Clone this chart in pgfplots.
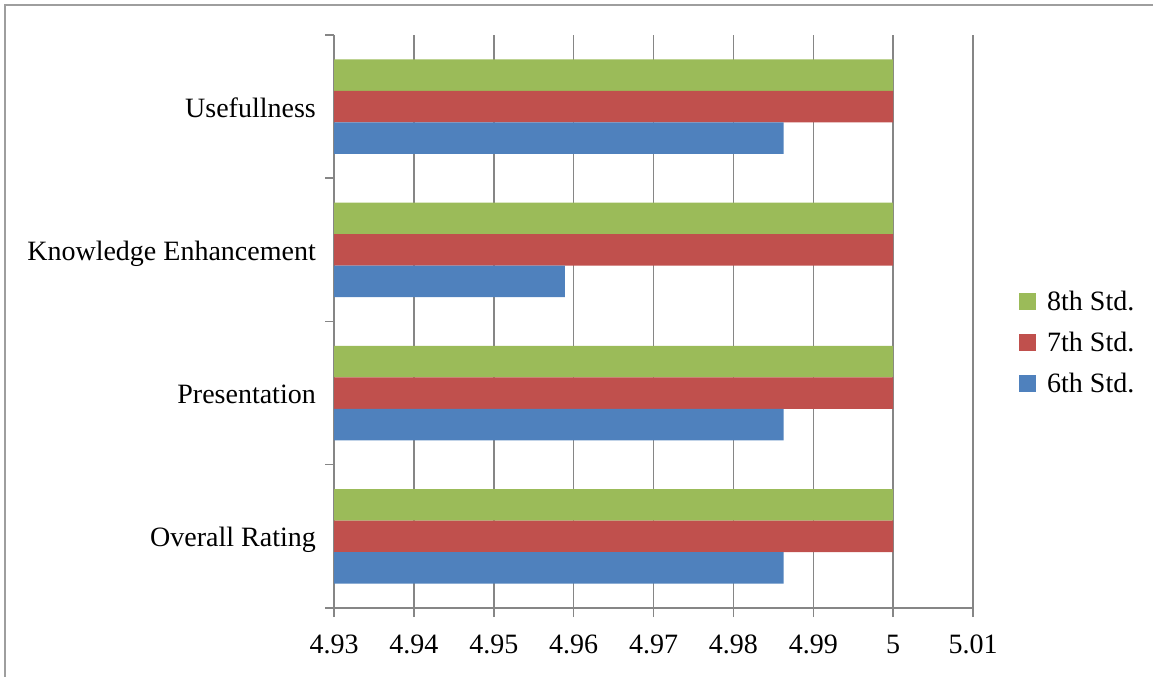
\documentclass[border=0pt]{standalone}
\usepackage{pgfplots}
\pgfplotsset{compat=1.18}
\usepackage{fontspec}
\setmainfont{Liberation Serif}
\definecolor{cgreen}{HTML}{9BBB59}
\definecolor{cred}{HTML}{C0504D}
\definecolor{cblue}{HTML}{4F81BD}
\definecolor{cgrid}{HTML}{868686}
\begin{document}
\begin{tikzpicture}
\useasboundingbox (0,0) rectangle (1153bp,677bp);
\draw[cgrid!80, line width=2bp] (5bp,0) -- (5bp,672bp) -- (1153bp,672bp);
\begin{axis}[
  at={(334bp,69bp)}, anchor=south west,
  scale only axis, width=639bp, height=573bp,
  xbar, bar width=31.5bp,
  xmin=4.93, xmax=5.01,
  ymin=-0.5, ymax=3.5,
  xtick={4.93,4.94,4.95,4.96,4.97,4.98,4.99,5.00,5.01},
  xticklabels={4.93,4.94,4.95,4.96,4.97,4.98,4.99,5,5.01},
  ytick={0,1,2,3},
  yticklabels={Overall Rating,Presentation,Knowledge Enhancement,Usefullness},
  minor ytick={-0.5,0.5,1.5,2.5,3.5},
  y tick style={draw=none},
  minor y tick style={draw=cgrid, line width=1.5bp},
  x tick style={draw=cgrid, line width=1.5bp},
  major tick length=9bp, minor tick length=9bp,
  tick align=outside,
  axis x line*=bottom, axis y line*=left,
  axis line style={draw=cgrid, line width=1.5bp},
  xmajorgrids, major x grid style={draw=cgrid, line width=1.5bp},
  axis on top=false,
  font=\fontsize{28bp}{33bp}\selectfont,
  xticklabel style={anchor=base, inner sep=0pt, yshift=-36bp},
  yticklabel style={anchor=base east, inner sep=0pt, xshift=-9bp, yshift=-10.5bp},
  legend style={at={(1.072,0.464)}, anchor=west, draw=none, fill=none,
    row sep=20bp, inner sep=0pt, font=\fontsize{28bp}{33bp}\selectfont,
    /tikz/every odd column/.append style={column sep=11bp},
    /tikz/every node/.append style={inner sep=0pt}},
  legend cell align=left,
  legend image code/.code={\fill[#1] (0bp,-8.5bp) rectangle (17bp,8.5bp);},
]
\addplot[fill=cgreen, draw=none, bar shift=31.5bp] coordinates {(5,0) (5,1) (5,2) (5,3)};
\addplot[fill=cred, draw=none, bar shift=0bp] coordinates {(5,0) (5,1) (5,2) (5,3)};
\addplot[fill=cblue, draw=none, bar shift=-31.5bp] coordinates {(4.9863,0) (4.9863,1) (4.9589,2) (4.9863,3)};
\legend{8th Std.,7th Std.,6th Std.}
\end{axis}
\end{tikzpicture}
\end{document}
